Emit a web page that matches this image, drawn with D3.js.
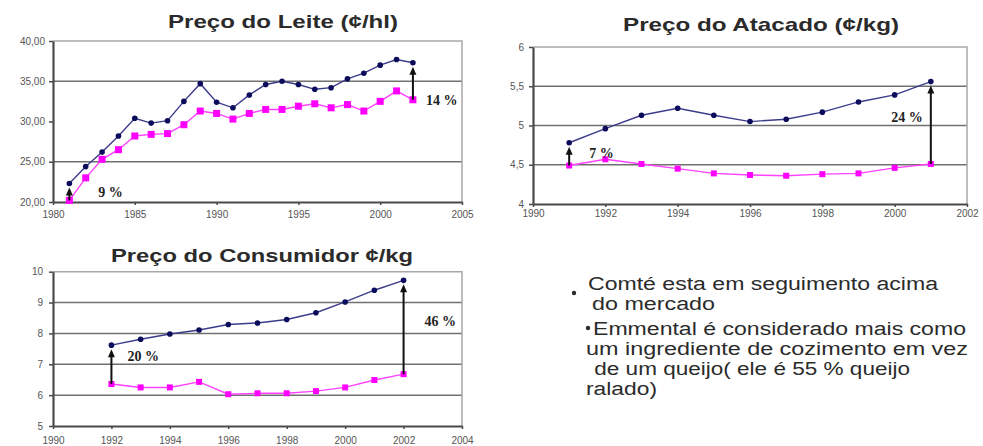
<!DOCTYPE html>
<html>
<head>
<meta charset="utf-8">
<script src="https://cdn.jsdelivr.net/npm/d3@7"></script>
<style>
body { margin: 0; background: #fff; }
text { font-family: "Liberation Sans", Arial, sans-serif; }
</style>
</head>
<body>
<script>
// Preço do Leite (¢/hl)
var leiteYears = [1981,1982,1983,1984,1985,1986,1987,1988,1989,1990,1991,1992,1993,1994,1995,1996,1997,1998,1999,2000,2001,2002];
var leiteComte = [22.3,24.4,26.2,28.2,30.4,29.8,30.1,32.5,34.7,32.4,31.7,33.3,34.6,35.0,34.6,34.0,34.2,35.3,36.0,37.0,37.7,37.3];
var leiteEmmental = [20.2,23.0,25.3,26.5,28.2,28.4,28.5,29.6,31.3,31.0,30.3,31.0,31.5,31.5,31.9,32.2,31.7,32.1,31.3,32.5,33.8,32.7];
var leiteXTicks = [1980,1985,1990,1995,2000,2005];
var leiteYTicks = [20,25,30,35,40];
var leiteGrid = [25,35];
var leiteGaps = [{year: 1981, label: "9 %"}, {year: 2002, label: "14 %"}];

// Preço do Atacado (¢/kg)
var atacadoYears = [1991,1992,1993,1994,1995,1996,1997,1998,1999,2000,2001];
var atacadoComte = [4.78,4.96,5.13,5.22,5.13,5.05,5.08,5.17,5.30,5.39,5.56];
var atacadoEmmental = [4.49,4.57,4.51,4.45,4.39,4.37,4.36,4.38,4.39,4.46,4.51];
var atacadoXTicks = [1990,1992,1994,1996,1998,2000,2002];
var atacadoYTicks = [4,4.5,5,5.5,6];
var atacadoGrid = [4.5,5,5.5];
var atacadoGaps = [{year: 1991, label: "7 %"}, {year: 2001, label: "24 %"}];

// Preço do Consumidor ¢/kg
var consumYears = [1992,1993,1994,1995,1996,1997,1998,1999,2000,2001,2002];
var consumComte = [7.62,7.81,7.98,8.11,8.29,8.34,8.45,8.67,9.02,9.40,9.72];
var consumEmmental = [6.36,6.25,6.25,6.43,6.03,6.06,6.06,6.13,6.25,6.49,6.68];
var consumXTicks = [1990,1992,1994,1996,1998,2000,2002,2004];
var consumYTicks = [5,6,7,8,9,10];
var consumGrid = [6,7,8,9];
var consumGaps = [{year: 1992, label: "20 %"}, {year: 2002, label: "46 %"}];

// Texto
var bulletLines = [
  "Comté esta em seguimento acima",
  "do mercado",
  "Emmental é considerado mais como",
  "um ingrediente de cozimento em vez",
  " de um queijo( ele é 55 % queijo",
  "ralado)"
];

var W = 983, H = 446;
var svg = d3.select("body").append("svg")
  .attr("width", W)
  .attr("height", H);

function drawChart(c) {
  var x = d3.scaleLinear().domain(c.xDomain).range([c.left, c.right]);
  var y = d3.scaleLinear().domain(c.yDomain).range([c.bottom, c.top]);
  var g = svg.append("g");

  // title
  g.append("text")
    .attr("x", c.title.x)
    .attr("y", c.title.y)
    .attr("textLength", c.title.w)
    .attr("lengthAdjust", "spacingAndGlyphs")
    .style("font-size", "19px")
    .style("font-weight", "bold")
    .style("fill", "#2b2b2b")
    .text(c.title.text);

  // gridlines
  g.selectAll(".grid").data(c.grid).enter().append("line")
    .attr("x1", c.left).attr("x2", c.right)
    .attr("y1", function(d) { return y(d); })
    .attr("y2", function(d) { return y(d); })
    .attr("stroke", "#707070")
    .attr("stroke-width", 1.5);

  // plot border (top + right)
  g.append("path")
    .attr("d", "M" + c.left + "," + y(c.yDomain[1]) + "H" + c.right + "V" + c.bottom)
    .attr("fill", "none")
    .attr("stroke", "#a8a8a8")
    .attr("stroke-width", 1.5);

  // axes
  var xAxis = d3.axisBottom(x)
    .tickValues(c.xTicks)
    .tickSize(3)
    .tickSizeOuter(0)
    .tickPadding(c.xPad)
    .tickFormat(d3.format("d"));
  var yAxis = d3.axisLeft(y)
    .tickValues(c.yTicks)
    .tickSize(4)
    .tickSizeOuter(0)
    .tickPadding(c.yPad)
    .tickFormat(c.yFormat);

  var gx = g.append("g").attr("transform", "translate(0," + c.bottom + ")").call(xAxis);
  var gy = g.append("g").attr("transform", "translate(" + c.left + ",0)").call(yAxis);
  [gx, gy].forEach(function(a) {
    a.select(".domain").attr("stroke", "#4a4a4a").attr("stroke-width", 2.2);
    a.selectAll(".tick line").attr("stroke", "#4a4a4a").attr("stroke-width", 1.5);
    a.selectAll(".tick text")
      .style("font-family", "'Liberation Sans', Arial, sans-serif")
      .style("font-size", "10px")
      .style("fill", "#555");
  });

  var line = d3.line()
    .x(function(d) { return x(d[0]); })
    .y(function(d) { return y(d[1]); });

  var comte = c.years.map(function(yr, i) { return [yr, c.comte[i]]; });
  var emm = c.years.map(function(yr, i) { return [yr, c.emmental[i]]; });

  g.append("path").datum(emm)
    .attr("d", line)
    .attr("fill", "none")
    .attr("stroke", "#ff40ff")
    .attr("stroke-width", 1.4);
  g.append("path").datum(comte)
    .attr("d", line)
    .attr("fill", "none")
    .attr("stroke", "#3c3c8c")
    .attr("stroke-width", 1.4);

  g.selectAll(".sq").data(emm).enter().append("rect")
    .attr("x", function(d) { return x(d[0]) - c.sq / 2; })
    .attr("y", function(d) { return y(d[1]) - c.sq / 2; })
    .attr("width", c.sq).attr("height", c.sq)
    .attr("fill", "#ff00ff");
  g.selectAll(".dot").data(comte).enter().append("circle")
    .attr("cx", function(d) { return x(d[0]); })
    .attr("cy", function(d) { return y(d[1]); })
    .attr("r", 2.8)
    .attr("fill", "#0c0c5c");

  // gap arrows
  c.gaps.forEach(function(a) {
    var i = c.years.indexOf(a.year);
    var ax = x(a.year);
    var y0 = y(c.emmental[i]);
    var tip = y(c.comte[i]) + 4;
    g.append("line")
      .attr("x1", ax).attr("x2", ax)
      .attr("y1", y0).attr("y2", tip + 6)
      .attr("stroke", "#111")
      .attr("stroke-width", 2);
    g.append("path")
      .attr("d", "M" + ax + "," + tip + "L" + (ax - 3.5) + "," + (tip + 8) + "L" + (ax + 3.5) + "," + (tip + 8) + "Z")
      .attr("fill", "#111");
    g.append("text")
      .attr("x", ax + a.dx)
      .attr("y", (y0 + tip) / 2 + a.dy)
      .attr("text-anchor", a.anchor || "start")
      .style("font-family", "'Liberation Serif', 'Times New Roman', serif")
      .style("font-weight", "bold")
      .style("font-size", "14px")
      .style("fill", "#222")
      .text(a.label);
  });
}

var commaFmt = function(d) { return String(d).replace(".", ","); };

leiteGaps[0].dx = 29; leiteGaps[0].dy = 3;
leiteGaps[1].dx = 13; leiteGaps[1].dy = 22;
atacadoGaps[0].dx = 20; atacadoGaps[0].dy = 2;
atacadoGaps[1].dx = -8; atacadoGaps[1].dy = -3; atacadoGaps[1].anchor = "end";
consumGaps[0].dx = 16; consumGaps[0].dy = -6;
consumGaps[1].dx = 21; consumGaps[1].dy = -3;

drawChart({
  left: 53, right: 462, top: 41, bottom: 202,
  xDomain: [1980, 2005], yDomain: [20, 40],
  xTicks: leiteXTicks, yTicks: leiteYTicks, grid: leiteGrid,
  xPad: 6, yPad: 4,
  yFormat: function(d) { return d3.format(".2f")(d).replace(".", ","); },
  years: leiteYears, comte: leiteComte, emmental: leiteEmmental,
  gaps: leiteGaps, sq: 7,
  title: {text: "Preço do Leite (¢/hl)", x: 168, y: 28, w: 230}
});

drawChart({
  left: 533, right: 967, top: 47, bottom: 204,
  xDomain: [1990, 2002], yDomain: [4, 6],
  xTicks: atacadoXTicks, yTicks: atacadoYTicks, grid: atacadoGrid,
  xPad: 3, yPad: 5,
  yFormat: commaFmt,
  years: atacadoYears, comte: atacadoComte, emmental: atacadoEmmental,
  gaps: atacadoGaps, sq: 6,
  title: {text: "Preço do Atacado (¢/kg)", x: 623, y: 31, w: 276}
});

drawChart({
  left: 53, right: 462, top: 271.7, bottom: 426,
  xDomain: [1990, 2004], yDomain: [5, 10],
  xTicks: consumXTicks, yTicks: consumYTicks, grid: consumGrid,
  xPad: 8, yPad: 6,
  yFormat: d3.format("d"),
  years: consumYears, comte: consumComte, emmental: consumEmmental,
  gaps: consumGaps, sq: 6,
  title: {text: "Preço do Consumidor ¢/kg", x: 111, y: 262, w: 302}
});

// bullet text
var textPos = [
  {x: 588, y: 290, w: 350},
  {x: 592, y: 310, w: 123},
  {x: 593, y: 335, w: 373},
  {x: 586, y: 355, w: 382},
  {x: 588, y: 375, w: 322},
  {x: 586, y: 395, w: 71}
];
var notes = svg.append("g");
notes.selectAll("text").data(bulletLines).enter().append("text")
  .attr("x", function(d, i) { return textPos[i].x; })
  .attr("y", function(d, i) { return textPos[i].y; })
  .attr("textLength", function(d, i) { return textPos[i].w; })
  .attr("lengthAdjust", "spacingAndGlyphs")
  .style("font-size", "18px")
  .style("fill", "#2b2b2b")
  .style("white-space", "pre")
  .text(function(d) { return d; });
notes.selectAll("circle").data([[574, 293], [588, 328]]).enter().append("circle")
  .attr("cx", function(d) { return d[0]; })
  .attr("cy", function(d) { return d[1]; })
  .attr("r", 2.2)
  .attr("fill", "#2b2b2b");
</script>
</body>
</html>
